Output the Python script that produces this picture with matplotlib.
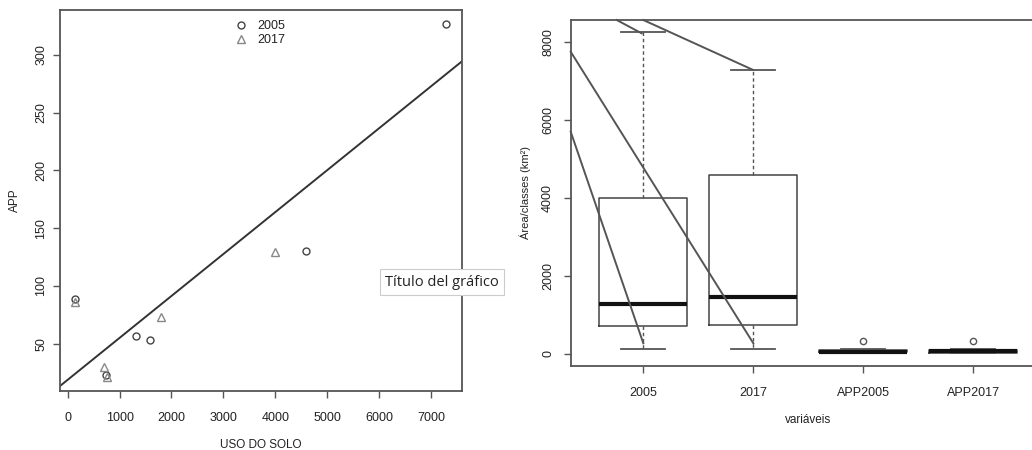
import matplotlib
matplotlib.use("Agg")
import matplotlib.pyplot as plt
import numpy as np

plt.rcParams['font.family'] = ['Liberation Sans', 'DejaVu Sans']

# ---------------- data: left scatter ----------------
uso_2005 = [140, 740, 1310, 1590, 4600, 7300]
app_2005 = [89, 23, 57, 53, 130, 327]
uso_2017 = [140, 700, 760, 1800, 4000]
app_2017 = [86, 30, 21, 73, 129]
fit_intercept = 18.7
fit_slope = 0.0363
left_xticks = [0, 1000, 2000, 3000, 4000, 5000, 6000, 7000]
left_yticks = [50, 100, 150, 200, 250, 300]
legend_labels = ["2005", "2017"]

# ---------------- data: right boxplots ----------------
box_labels = ["2005", "2017", "APP2005", "APP2017"]
box_whislo = [136, 136, 22, 21]
box_q1 = [717, 743, 40, 30]
box_med = [1281, 1460, 60, 73]
box_q3 = [3996, 4585, 100, 90]
box_whishi = [8240, 7283, 130, 129]
box_fliers = [[], [], [327], [327]]
right_yticks = [0, 2000, 4000, 6000, 8000]

# overlay connector lines on the right panel (data coords)
conn_x0 = [0.34, 0.34, 0.758, 1.0]
conn_y0 = [5694, 7743, 8556, 8556]
conn_x1 = [1.0, 2.0, 0.985, 2.0]
conn_y1 = [274, 274, 8215, 7274]

tooltip_text = "Título del gráfico"

SPINE = '#555555'
TXT = '#222222'

fig = plt.figure(figsize=(10.32, 4.5), dpi=100)

# ---------------- left panel ----------------
ax1 = fig.add_axes([60/1032, 1-391/450, 402/1032, 381/450])
ax1.set_xlim(-148, 7600)
ax1.set_ylim(9, 339)
xs = np.array(ax1.get_xlim())
ax1.plot(xs, fit_intercept + fit_slope * xs, color='#333333', lw=1.4, zorder=2)
ax1.plot(uso_2005, app_2005, linestyle='none', marker='o', ms=5, mfc='none',
         mec='#444444', mew=1.0, label=legend_labels[0], zorder=3)
ax1.plot(uso_2017, app_2017, linestyle='none', marker='^', ms=6, mfc='none',
         mec='#888888', mew=1.0, label=legend_labels[1], zorder=3)
ax1.set_xticks(left_xticks)
ax1.set_yticks(left_yticks)
ax1.set_yticklabels([str(v) for v in left_yticks], rotation=90, va='center')
leg = ax1.legend(loc='upper left', bbox_to_anchor=(0.41, 1.0), frameon=False,
                 fontsize=9, handletextpad=0.8, labelspacing=0.15,
                 handlelength=1.0, borderaxespad=0.4)
for t in leg.get_texts():
    t.set_color(TXT)

# ---------------- right panel ----------------
ax2 = fig.add_axes([570.7/1032, 1-365.7/450, (1046-570.7)/1032, (365.7-20)/450])
stats = []
for i, lab in enumerate(box_labels):
    stats.append(dict(label=lab, whislo=box_whislo[i], q1=box_q1[i], med=box_med[i],
                      q3=box_q3[i], whishi=box_whishi[i], fliers=box_fliers[i]))
ax2.bxp(stats, positions=range(1, len(box_labels) + 1), widths=0.8,
        capwidths=0.4, showfliers=True,
        boxprops=dict(color='#444444', lw=1.1),
        medianprops=dict(color='#111111', lw=3.0, solid_capstyle='butt'),
        whiskerprops=dict(color='#555555', lw=1.0, linestyle=(0, (2.5, 2))),
        capprops=dict(color='#555555', lw=1.3),
        flierprops=dict(marker='o', ms=4.5, mfc='none', mec='#555555', mew=1.0))
ax2.set_xlim(0.34, 4.66)
ax2.set_ylim(-300, 8556)
ax2.set_yticks(right_yticks)
ax2.set_yticklabels([str(v) for v in right_yticks], rotation=90, va='center')
ax2.set_xticks(range(1, len(box_labels) + 1))
ax2.set_xticklabels(box_labels)
for x0, y0, x1, y1 in zip(conn_x0, conn_y0, conn_x1, conn_y1):
    ax2.plot([x0, x1], [y0, y1], color='#555555', lw=1.4, zorder=4, clip_on=False)

for ax in (ax1, ax2):
    for s in ax.spines.values():
        s.set_color(SPINE)
        s.set_linewidth(1.3)
    ax.tick_params(direction='out', length=5, width=1.0, color=SPINE,
                   labelsize=9, labelcolor=TXT)
    ax.tick_params(axis='x', pad=10)

ax1.tick_params(axis='y', pad=4)
ax2.tick_params(axis='y', pad=7)

ax1.set_xlabel("USO DO SOLO", fontsize=8.5, color=TXT, labelpad=11)
ax1.set_ylabel("APP", fontsize=8.5, color=TXT, labelpad=10.5)
ax2.set_xlabel("variáveis", fontsize=8.5, color=TXT, labelpad=11)
ax2.set_ylabel("Área/classes (km²)", fontsize=8, color=TXT, labelpad=8)

# tooltip
fig.text(385/1032, 1-282/450, tooltip_text, fontsize=10.5, family=['Open Sans', 'DejaVu Sans'],
         color='#222222', va='center', ha='left',
         bbox=dict(boxstyle='square,pad=0.35', fc='white', ec='#cccccc', lw=0.8))

fig.savefig("out.png", dpi=100)
